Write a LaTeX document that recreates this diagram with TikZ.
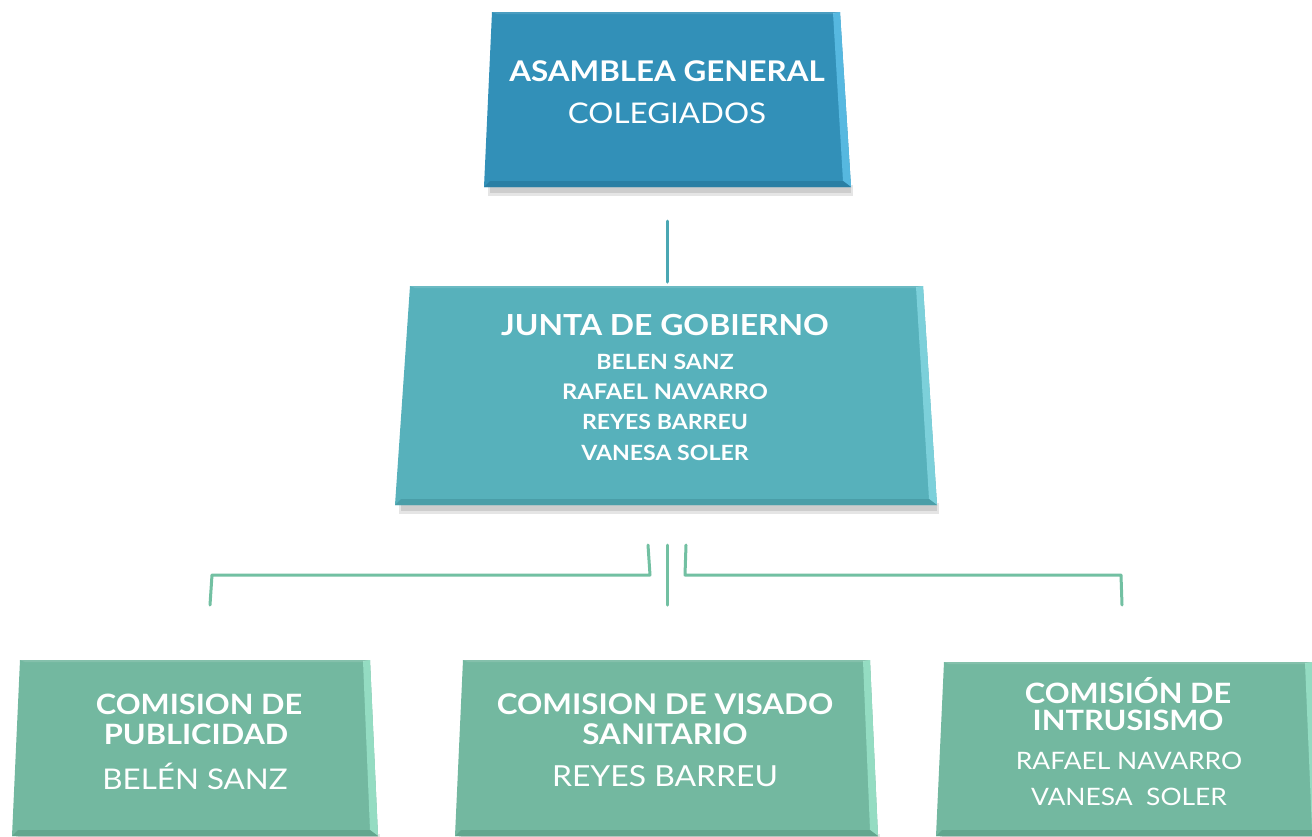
\documentclass[tikz,border=0pt]{standalone}
\usepackage{fontspec}
\setmainfont{Lato}[FakeStretch=1.1]
\definecolor{topc}{HTML}{3290B8}
\definecolor{topr}{HTML}{56B8E0}
\definecolor{topb}{HTML}{2A7FA4}
\definecolor{midc}{HTML}{57B1BB}
\definecolor{midr}{HTML}{7CD0DA}
\definecolor{midb}{HTML}{4A9EA8}
\definecolor{botc}{HTML}{73B8A0}
\definecolor{botr}{HTML}{94DCC2}
\definecolor{botb}{HTML}{62A68E}
\definecolor{linetop}{HTML}{4AA7B3}
\definecolor{linebot}{HTML}{72C0A2}
\tikzset{
  boxtext/.style={text=white, align=center, inner sep=0pt},
  conn/.style={line width=3pt, line cap=round, line join=round},
}
% #1 tl x, #2 tr x, #3 top y, #4 bl x, #5 br x, #6 bottom y, #7 fill, #8 right bevel, #9 bottom bevel
\newcommand{\bevelbox}[9]{%
  \fill[black, opacity=0.10] (#4+4,#6-2) -- (#5+2,#6-2) -- (#5+2,#6+9) -- (#4+4,#6+9) -- cycle;
  \fill[black, opacity=0.10] (#4+6,#6-2) -- (#5,#6-2) -- (#5,#6+6) -- (#4+6,#6+6) -- cycle;
  \fill[#7] (#1,#3) -- (#2,#3) -- (#5,#6) -- (#4,#6) -- cycle;
  \fill[#8] (#2-7,#3+1) -- (#2,#3) -- (#5,#6) -- (#5-8,#6-6) -- cycle;
  \fill[#9] (#4,#6) -- (#5,#6) -- (#5-8,#6-6) -- (#4+6,#6-6) -- cycle;
  \fill[white, opacity=0.12] (#1,#3) -- (#2,#3) -- (#2-7,#3+2) -- (#1+5,#3+2) -- cycle;
}
\begin{document}
\begin{tikzpicture}[x=1pt,y=-1pt]
\useasboundingbox (0,0) rectangle (1312,836);
\fill[white] (0,0) rectangle (1312,836);

% boxes
\bevelbox{492}{840}{12}{484}{851}{187}{topc}{topr}{topb}
\bevelbox{410}{923}{286}{395}{937}{505}{midc}{midr}{midb}
\bevelbox{20}{370}{660}{12}{378}{836}{botc}{botr}{botb}
\bevelbox{463}{870}{660}{455}{878}{836}{botc}{botr}{botb}
\bevelbox{944}{1312}{662}{936}{1320}{836}{botc}{botr}{botb}

% texts
\node[boxtext, font=\bfseries\fontsize{28.5}{32}\selectfont] (asam) at (667,71) {ASAMBLEA GENERAL};
\node[boxtext, font=\fontsize{28.5}{32}\selectfont] (coleg) at (667,113) {COLEGIADOS};

\node[boxtext, font=\bfseries\fontsize{29}{32}\selectfont] (junta) at (665,325) {JUNTA DE GOBIERNO};
\node[boxtext, font=\bfseries\fontsize{21}{24}\selectfont] (j1) at (665,362) {BELEN SANZ};
\node[boxtext, font=\bfseries\fontsize{21.5}{24}\selectfont] (j2) at (665,392) {RAFAEL NAVARRO};
\node[boxtext, font=\bfseries\fontsize{21}{24}\selectfont] (j3) at (665,422) {REYES BARREU};
\node[boxtext, font=\bfseries\fontsize{21}{24}\selectfont] (j4) at (665,453) {VANESA SOLER};

\node[boxtext, font=\bfseries\fontsize{28}{32}\selectfont] (p1) at (199,704) {COMISION DE};
\node[boxtext, font=\bfseries\fontsize{28}{32}\selectfont] (p2) at (196,734) {PUBLICIDAD};
\node[boxtext, font=\fontsize{28.5}{32}\selectfont] (p3) at (195,776) {BELÉN SANZ};

\node[boxtext, font=\bfseries\fontsize{28.5}{32}\selectfont] (v1) at (665,704) {COMISION DE VISADO};
\node[boxtext, font=\bfseries\fontsize{28.5}{32}\selectfont] (v2) at (665,734) {SANITARIO};
\node[boxtext, font=\fontsize{29}{32}\selectfont] (v3) at (665,776) {REYES BARREU};

\node[boxtext, font=\bfseries\fontsize{28}{32}\selectfont] (i1) at (1128,691) {COMISIÓN DE};
\node[boxtext, font=\bfseries\fontsize{28}{32}\selectfont] (i2) at (1128,720) {INTRUSISMO};
\node[boxtext, font=\fontsize{24}{28}\selectfont] (i3) at (1129,761) {RAFAEL NAVARRO};
\node[boxtext, font=\fontsize{24}{28}\selectfont] (i4) at (1129,797) {VANESA\ \ SOLER};

% connector end points
\coordinate (ta) at (667,221);
\coordinate (tb) at (667,282);
\coordinate (l0) at (648,545);
\coordinate (l1) at (650,575);
\coordinate (l2) at (212,575);
\coordinate (l3) at (210,605);
\coordinate (m0) at (667,545);
\coordinate (m1) at (667,605);
\coordinate (r0) at (686,545);
\coordinate (r1) at (685,575);
\coordinate (r2) at (1121,575);
\coordinate (r3) at (1122,605);

\draw[conn, linetop] (ta) -- (tb);
\draw[conn, linebot] (l0) -- (l1) -- (l2) -- (l3);
\draw[conn, linebot] (m0) -- (m1);
\draw[conn, linebot] (r0) -- (r1) -- (r2) -- (r3);
\end{tikzpicture}
\end{document}
